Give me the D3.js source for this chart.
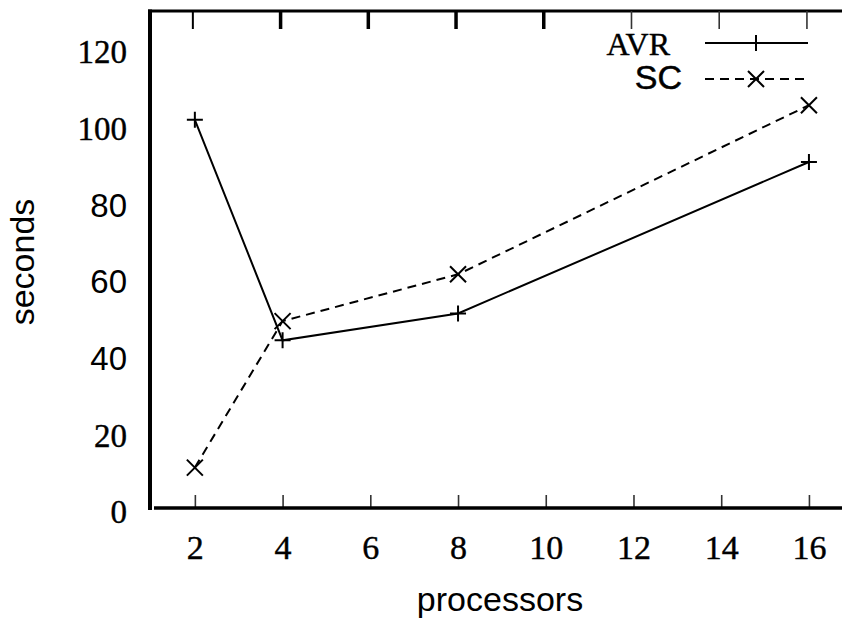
<!DOCTYPE html>
<html>
<head>
<meta charset="utf-8">
<script src="https://cdn.jsdelivr.net/npm/d3@7"></script>
<style>
  html, body { margin: 0; padding: 0; background: #fff; }
  svg { display: block; }
</style>
</head>
<body>
<svg id="chart" width="842" height="618"></svg>
<script>
// Run time (seconds) against processor count for two schedulers
const processors = [2, 4, 8, 16];
const avrSeconds = [101.5, 44, 51, 90.5];
const scSeconds = [10.8, 49, 61.2, 105.3];
const xTickValues = [2, 4, 6, 8, 10, 12, 14, 16];
const yTickValues = [0, 20, 40, 60, 80, 100, 120];
const seriesNames = ["AVR", "SC"];

const serif = "'Liberation Serif', 'DejaVu Serif', serif";
const sans = "'Liberation Sans', Arial, sans-serif";

const svg = d3.select("#chart");
const W = 842, H = 618;

const x = d3.scaleLinear().domain([1, 17]).range([151, 852.8]);
const y = d3.scaleLinear().domain([0, 130]).range([509, 10.5]);

// serif labels get a faint outline so they read a little heavier
function heavySerif(sel) {
  sel.attr("font-family", serif)
    .attr("stroke", "#000")
    .attr("stroke-width", 0.4)
    .attr("paint-order", "stroke");
}

// bottom axis: ticks point inward, labels below
const xAxis = d3.axisBottom(x)
  .tickValues(xTickValues)
  .tickSize(-14)
  .tickPadding(26)
  .tickFormat(d3.format("d"));

const gx = svg.append("g")
  .attr("transform", `translate(0,${y(0)})`)
  .call(xAxis);
gx.select(".domain").remove();
gx.selectAll(".tick line").attr("stroke", "#333").attr("stroke-width", 1.6);
gx.selectAll(".tick text")
  .attr("font-size", 34)
  .attr("fill", "#000")
  .call(heavySerif);

// left axis: labels only
const yAxis = d3.axisLeft(y)
  .tickValues(yTickValues)
  .tickSize(0)
  .tickPadding(23)
  .tickFormat(d3.format("d"));
const gy = svg.append("g")
  .attr("transform", `translate(${x(1) - 1},0)`)
  .call(yAxis);
gy.select(".domain").remove();
gy.selectAll(".tick text")
  .attr("font-size", 33)
  .attr("fill", "#000")
  .attr("dy", "0.42em")
  .each(function (d) {
    const t = d3.select(this);
    if (d === 40 || d === 60 || d === 80) t.attr("font-family", sans);
    else t.call(heavySerif);
  });

// frame lines
svg.append("line")
  .attr("x1", 150).attr("x2", 150)
  .attr("y1", 9.5).attr("y2", 510)
  .attr("stroke", "#000").attr("stroke-width", 4);
svg.append("line")
  .attr("x1", 154).attr("x2", W)
  .attr("y1", 508).attr("y2", 508)
  .attr("stroke", "#000").attr("stroke-width", 3.5);
svg.append("line")
  .attr("x1", 148).attr("x2", W)
  .attr("y1", 11).attr("y2", 11)
  .attr("stroke", "#000").attr("stroke-width", 3);

// top border ticks
svg.append("g").selectAll("line")
  .data(xTickValues)
  .join("line")
  .attr("x1", d => x(d) - 2).attr("x2", d => x(d) - 2)
  .attr("y1", 11).attr("y2", 29)
  .attr("stroke", d => d <= 10 ? "#000" : "#333")
  .attr("stroke-width", d => d === 2 ? 2 : (d <= 10 ? 3.5 : 1.6));

// axis titles
svg.append("text")
  .attr("x", 500).attr("y", 611)
  .attr("text-anchor", "middle")
  .attr("font-family", sans)
  .attr("font-size", 34)
  .text("processors");
svg.append("text")
  .attr("transform", "translate(34,262) rotate(-90)")
  .attr("text-anchor", "middle")
  .attr("font-family", sans)
  .attr("font-size", 34)
  .text("seconds");

const line = d3.line().x(d => x(d[0])).y(d => y(d[1]));
const avr = processors.map((p, i) => [p, avrSeconds[i]]);
const sc = processors.map((p, i) => [p, scSeconds[i]]);

const dash = "9,6";
const plot = svg.append("g");

plot.append("path")
  .datum(avr)
  .attr("d", line)
  .attr("fill", "none")
  .attr("stroke", "#000")
  .attr("stroke-width", 2);
plot.append("path")
  .datum(sc)
  .attr("d", line)
  .attr("fill", "none")
  .attr("stroke", "#000")
  .attr("stroke-width", 2)
  .attr("stroke-dasharray", dash);

const m = 8; // half marker size
function plus(g, cx, cy) {
  g.append("path")
    .attr("d", `M${cx - m},${cy}H${cx + m}M${cx},${cy - m}V${cy + m}`)
    .attr("stroke", "#000").attr("stroke-width", 2).attr("fill", "none");
}
function cross(g, cx, cy) {
  g.append("path")
    .attr("d", `M${cx - m},${cy - m}L${cx + m},${cy + m}M${cx - m},${cy + m}L${cx + m},${cy - m}`)
    .attr("stroke", "#000").attr("stroke-width", 2).attr("fill", "none");
}
avr.forEach(d => plus(plot, x(d[0]), y(d[1])));
sc.forEach(d => cross(plot, x(d[0]), y(d[1])));

// legend
const legend = svg.append("g");
const lx1 = 705, lx2 = 808, lxm = 756;
legend.append("text")
  .attr("x", 670).attr("y", 55)
  .attr("text-anchor", "end")
  .attr("font-size", 32)
  .call(heavySerif)
  .text(seriesNames[0]);
legend.append("line")
  .attr("x1", lx1).attr("x2", lx2).attr("y1", 43).attr("y2", 43)
  .attr("stroke", "#000").attr("stroke-width", 2);
plus(legend, lxm, 43);

legend.append("text")
  .attr("x", 682).attr("y", 89)
  .attr("text-anchor", "end")
  .attr("font-family", sans)
  .attr("font-size", 34)
  .attr("stroke", "#000")
  .attr("stroke-width", 0.5)
  .text(seriesNames[1]);
legend.append("line")
  .attr("x1", lx1).attr("x2", lx2).attr("y1", 79).attr("y2", 79)
  .attr("stroke", "#000").attr("stroke-width", 2)
  .attr("stroke-dasharray", dash);
cross(legend, lxm, 79);
</script>
</body>
</html>
